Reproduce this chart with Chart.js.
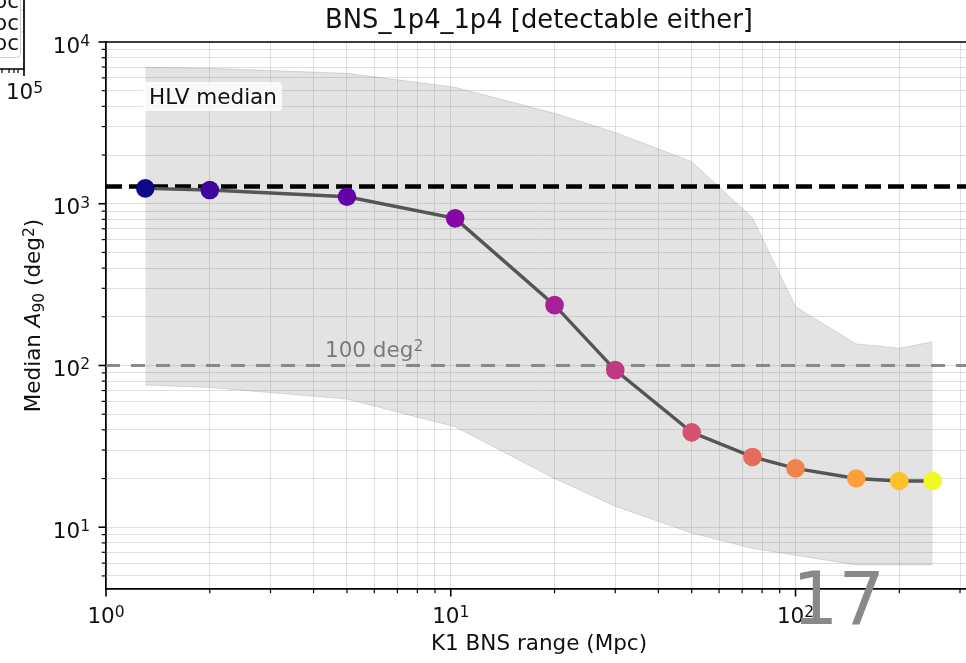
<!DOCTYPE html>
<html>
<head>
<meta charset="utf-8">
<script src="https://cdn.jsdelivr.net/npm/chart.js@4.4.1/dist/chart.umd.min.js"></script>
<style>
  html, body { margin: 0; padding: 0; background: #fff; overflow: hidden; }
  #wrap { position: relative; width: 1000px; height: 663px; }
</style>
</head>
<body>
<div id="wrap"><canvas id="a90Chart"></canvas></div>
<script>
// K1 BNS range (Mpc) and median 90% area (deg^2)
const rangeMpc  = [1.3, 2, 5, 10.3, 20, 30, 50, 75, 100, 150, 200, 250];
const medianA90 = [1245, 1215, 1105, 812, 236, 93.7, 38.6, 27.2, 23.1, 20.0, 19.3, 19.3];
// shaded spread around the median
const upperA90  = [6970, 6870, 6400, 5250, 3620, 2760, 1820, 820, 231, 136, 128, 140];
const lowerA90  = [75.7, 73.1, 62.0, 41.8, 20.0, 13.5, 9.2, 7.4, 6.7, 5.85, 5.85, 5.85];
// plasma colormap, one per range
const pointColors = ['#0d0887', '#3e049c', '#6300a7', '#8606a6', '#a62098', '#c03a83',
                     '#d5536f', '#e56b5d', '#f2844b', '#fc9f39', '#fdc229', '#f0f921'];

const hlvMedian = 1280;   // HLV median reference
const goalArea = 100;     // 100 deg^2 line
const xLimits = [1, 325];
const yLimits = [4.15, 10000];
const xTickValues = [1, 10, 100];
const xTickLabels = ['10^0', '10^1', '10^2'];
const yTickValues = [10, 100, 1000, 10000];
const yTickLabels = ['10^1', '10^2', '10^3', '10^4'];

const FONT = '"DejaVu Sans", sans-serif';
const BASE = 21.5;
const SMALL = 15.5;

function logTicks(min, max) {
    const out = [];
    for (let e = Math.floor(Math.log10(min)); e <= Math.ceil(Math.log10(max)); e++) {
        for (let m = 1; m < 10; m++) {
            const v = Number((m * Math.pow(10, e)).toPrecision(6));
            if (v >= min - 1e-9 && v <= max + 1e-9) out.push({ value: v, major: m === 1 });
        }
    }
    return out;
}

// parts: [text, size, style, dy]
function drawRich(ctx, parts, x, y, align) {
    let w = 0;
    parts.forEach(p => { ctx.font = `${p[2] || ''} ${p[1]}px ${FONT}`; w += ctx.measureText(p[0]).width; });
    let cx = x;
    if (align === 'center') cx = x - w / 2;
    if (align === 'right') cx = x - w;
    parts.forEach(p => {
        ctx.font = `${p[2] || ''} ${p[1]}px ${FONT}`;
        ctx.fillText(p[0], cx, y + (p[3] || 0));
        cx += ctx.measureText(p[0]).width;
    });
}

function powerParts(label) {
    const [b, e] = label.split('^');
    return [[b, BASE], [e, SMALL, '', -6.5]];
}

const overlay = {
    id: 'overlay',
    afterDraw(chart) {
        const { ctx, chartArea: a, scales: { x, y } } = chart;
        ctx.save();
        ctx.textAlign = 'left';
        ctx.textBaseline = 'alphabetic';

        // tick marks, outward
        ctx.strokeStyle = '#000';
        x.ticks.forEach(t => {
            const px = x.getPixelForValue(t.value);
            ctx.lineWidth = t.major ? 1.6 : 1.2;
            ctx.beginPath();
            ctx.moveTo(px, a.bottom);
            ctx.lineTo(px, a.bottom + (t.major ? 7.5 : 4.3));
            ctx.stroke();
        });
        y.ticks.forEach(t => {
            const py = y.getPixelForValue(t.value);
            ctx.lineWidth = t.major ? 1.6 : 1.2;
            ctx.beginPath();
            ctx.moveTo(a.left, py);
            ctx.lineTo(a.left - (t.major ? 7.5 : 4.3), py);
            ctx.stroke();
        });

        // tick labels with superscripts
        ctx.fillStyle = '#111';
        xTickValues.forEach((v, i) => {
            drawRich(ctx, powerParts(xTickLabels[i]), x.getPixelForValue(v), 623, 'center');
        });
        yTickValues.forEach((v, i) => {
            drawRich(ctx, powerParts(yTickLabels[i]), a.left - 16, y.getPixelForValue(v) + 10.5, 'right');
        });

        // top / right spines
        ctx.lineWidth = 1.7;
        ctx.beginPath();
        ctx.moveTo(a.left, a.top);
        ctx.lineTo(a.right, a.top);
        ctx.lineTo(a.right, a.bottom);
        ctx.stroke();

        // title
        drawRich(ctx, [['BNS_1p4_1p4 [detectable either]', 25.8]], (a.left + a.right) / 2, 28, 'center');

        // y label
        ctx.save();
        ctx.translate(40, (a.top + a.bottom) / 2);
        ctx.rotate(-Math.PI / 2);
        drawRich(ctx, [['Median ', BASE], ['A', BASE, 'italic'], ['90', SMALL, '', 4],
                       [' (deg', BASE], ['2', SMALL, '', -6.5], [')', BASE]], 0, 0, 'center');
        ctx.restore();

        // HLV median label
        ctx.fillStyle = 'rgba(255,255,255,0.8)';
        ctx.beginPath();
        ctx.roundRect(a.left + 37, a.top + 40, 139, 29, 4);
        ctx.fill();
        ctx.fillStyle = '#111';
        drawRich(ctx, [['HLV median', BASE]], a.left + 43, a.top + 62, 'left');

        // 100 deg^2 label
        ctx.fillStyle = '#7a7a7a';
        drawRich(ctx, [['100 deg', BASE], ['2', SMALL, '', -6.5]], 325, y.getPixelForValue(goalArea) - 8, 'left');

        // leftover of neighbouring panel
        ctx.strokeStyle = '#ccc';
        ctx.lineWidth = 1;
        ctx.beginPath();
        ctx.moveTo(20.5, 0); ctx.lineTo(20.5, 53);
        ctx.arcTo(20.5, 57.5, 16, 57.5, 4);
        ctx.lineTo(0, 57.5);
        ctx.stroke();
        ctx.strokeStyle = 'rgba(176,176,176,0.5)';
        [10, 32].forEach(gy => { ctx.beginPath(); ctx.moveTo(21, gy); ctx.lineTo(24, gy); ctx.stroke(); });
        ctx.strokeStyle = '#000';
        ctx.lineWidth = 1.7;
        ctx.beginPath();
        ctx.moveTo(24, 0); ctx.lineTo(24, 69); ctx.lineTo(0, 69);
        ctx.stroke();
        ctx.lineWidth = 1.2;
        [2, 9, 14, 18].forEach(tx => { ctx.beginPath(); ctx.moveTo(tx, 69); ctx.lineTo(tx, 73); ctx.stroke(); });
        ctx.lineWidth = 1.6;
        ctx.beginPath(); ctx.moveTo(24, 69); ctx.lineTo(24, 76); ctx.stroke();
        ctx.fillStyle = '#111';
        ctx.textAlign = 'right';
        ctx.font = `${BASE}px ${FONT}`;
        [8, 30, 50].forEach(by => ctx.fillText('Mpc', 19, by));
        ctx.textAlign = 'left';
        drawRich(ctx, powerParts('10^5'), 24.5, 99, 'center');

        // page number
        ctx.fillStyle = '#898989';
        ctx.font = `73px ${FONT}`;
        ctx.fillText('17', 792, 624);

        ctx.restore();
    }
};

const ctx = document.getElementById('a90Chart').getContext('2d');
new Chart(ctx, {
    type: 'line',
    data: {
        datasets: [
            {
                label: 'upper',
                data: rangeMpc.map((r, i) => ({ x: r, y: upperA90[i] })),
                borderColor: 'rgba(128,128,128,0.25)',
                borderWidth: 1,
                backgroundColor: 'rgba(128,128,128,0.22)',
                pointRadius: 0,
                fill: '+1',
                order: 3
            },
            {
                label: 'lower',
                data: rangeMpc.map((r, i) => ({ x: r, y: lowerA90[i] })),
                borderColor: 'rgba(128,128,128,0.25)',
                borderWidth: 1,
                pointRadius: 0,
                fill: false,
                order: 3
            },
            {
                label: 'HLV median',
                data: xLimits.map(r => ({ x: r, y: hlvMedian })),
                borderColor: '#000',
                borderWidth: 4.5,
                borderDash: [16, 7],
                pointRadius: 0,
                fill: false,
                order: 2
            },
            {
                label: '100 deg2',
                data: xLimits.map(r => ({ x: r, y: goalArea })),
                borderColor: 'rgba(128,128,128,0.9)',
                borderWidth: 3.2,
                borderDash: [14, 11],
                pointRadius: 0,
                fill: false,
                order: 2
            },
            {
                label: 'median A90',
                data: rangeMpc.map((r, i) => ({ x: r, y: medianA90[i] })),
                borderColor: '#555555',
                borderWidth: 3.4,
                pointRadius: 9.3,
                pointBackgroundColor: pointColors,
                pointBorderColor: pointColors,
                pointBorderWidth: 0,
                fill: false,
                order: 1
            }
        ]
    },
    options: {
        responsive: true,
        maintainAspectRatio: false,
        animation: false,
        events: [],
        layout: { padding: { top: 42, right: 28, left: 0, bottom: 0 } },
        plugins: { legend: { display: false }, tooltip: { enabled: false } },
        scales: {
            x: {
                type: 'logarithmic',
                min: xLimits[0],
                max: xLimits[1],
                afterBuildTicks: s => { s.ticks = logTicks(s.min, s.max); },
                afterFit: s => { s.height = 74; },
                grid: { color: 'rgba(176,176,176,0.4)', lineWidth: 1, drawTicks: false },
                border: { display: true, color: '#000', width: 1.7 },
                ticks: { autoSkip: false, maxRotation: 0, callback: () => '' },
                title: {
                    display: true,
                    text: 'K1 BNS range (Mpc)',
                    color: '#111',
                    font: { family: FONT, size: BASE },
                    padding: { top: 0, bottom: 5.5 }
                }
            },
            y: {
                type: 'logarithmic',
                min: yLimits[0],
                max: yLimits[1],
                afterBuildTicks: s => { s.ticks = logTicks(s.min, s.max); },
                afterFit: s => { s.width = 106; },
                grid: { color: 'rgba(176,176,176,0.4)', lineWidth: 1, drawTicks: false },
                border: { display: true, color: '#000', width: 1.7 },
                ticks: { autoSkip: false, callback: () => '' }
            }
        }
    },
    plugins: [overlay]
});
</script>
</body>
</html>
